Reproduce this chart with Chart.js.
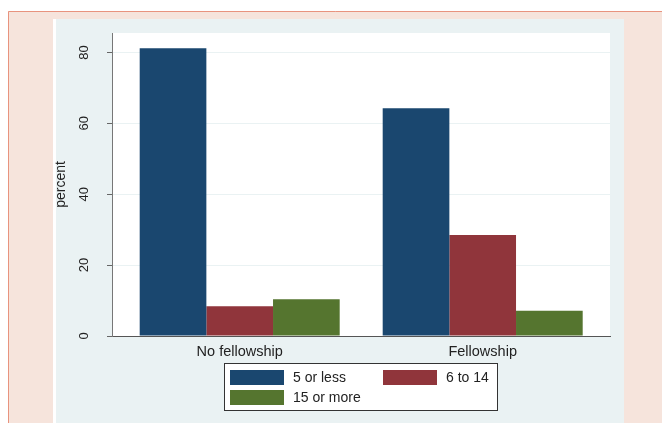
<!DOCTYPE html>
<html>
<head>
<meta charset="utf-8">
<script src="https://cdn.jsdelivr.net/npm/chart.js@4.4.1/dist/chart.umd.min.js"></script>
<style>
    html, body { margin: 0; padding: 0; background: #fff; }
    #wrap { width: 662px; height: 423px; }
</style>
</head>
<body>
<div id="wrap"><canvas id="fellowChart" width="662" height="423"></canvas></div>
<script>
// Categories and series (percent)
const groups = ['No fellowship', 'Fellowship'];
const fiveOrLess = [81.2, 64.3];
const sixTo14 = [8.4, 28.5];
const fifteenOrMore = [10.4, 7.1];
const seriesNames = ['5 or less', '6 to 14', '15 or more'];
const yTicks = [0, 20, 40, 60, 80];

const FONT = "'Liberation Sans', Arial, sans-serif";
const colors = ['#1A476F', '#90353B', '#55752F'];

const toPoints = arr => arr.map((v, i) => ({ x: i, y: v }));

// Page background: salmon frame, bluish graph region, white plot region
const backdrop = {
    id: 'backdrop',
    beforeDraw(chart) {
        const c = chart.ctx;
        const a = chart.chartArea;
        c.save();
        c.fillStyle = '#fff';
        c.fillRect(0, 0, 662, 423);
        c.fillStyle = '#F6E4DC';
        c.fillRect(8, 11, 654, 412);
        c.strokeStyle = '#E8937E';
        c.lineWidth = 1;
        c.beginPath();
        c.moveTo(8.5, 423);
        c.lineTo(8.5, 11.5);
        c.lineTo(662, 11.5);
        c.stroke();
        c.fillStyle = '#fff';
        c.fillRect(53, 19, 3, 404);
        c.fillStyle = '#EAF2F3';
        c.fillRect(56, 19, 568, 404);
        c.fillStyle = '#fff';
        c.fillRect(a.left, a.top, a.right - a.left, a.bottom - a.top);
        c.restore();
    }
};

// Boxed legend below the plot, two columns
const boxLegend = {
    id: 'boxLegend',
    afterDraw(chart) {
        const c = chart.ctx;
        c.save();
        c.fillStyle = '#fff';
        c.fillRect(224.5, 363.5, 273, 47);
        c.strokeStyle = '#333';
        c.lineWidth = 1;
        c.strokeRect(224.5, 363.5, 273, 47);
        c.font = '14px ' + FONT;
        c.textBaseline = 'middle';
        c.textAlign = 'left';
        chart.data.datasets.forEach((ds, i) => {
            const x = 230 + (i % 2) * 153;
            const y = 370 + Math.floor(i / 2) * 20;
            c.fillStyle = ds.backgroundColor;
            c.fillRect(x, y, 54, 15);
            c.fillStyle = '#222';
            c.fillText(ds.label, x + 63, y + 8);
        });
        c.restore();
    }
};

new Chart(document.getElementById('fellowChart'), {
    type: 'bar',
    data: {
        datasets: [
            { label: seriesNames[0], data: toPoints(fiveOrLess), backgroundColor: colors[0] },
            { label: seriesNames[1], data: toPoints(sixTo14), backgroundColor: colors[1] },
            { label: seriesNames[2], data: toPoints(fifteenOrMore), backgroundColor: colors[2] }
        ]
    },
    options: {
        responsive: false,
        animation: false,
        devicePixelRatio: 1,
        layout: { padding: { top: 33, left: 53, right: 52, bottom: 0 } },
        datasets: {
            bar: { categoryPercentage: 200 / 243, barPercentage: 1, borderWidth: 0 }
        },
        plugins: {
            legend: { display: false },
            tooltip: { enabled: false }
        },
        scales: {
            x: {
                type: 'linear',
                offset: false,
                min: -0.5255,
                max: 1.5239,
                afterBuildTicks: scale => { scale.ticks = groups.map((g, i) => ({ value: i })); },
                afterFit: scale => { scale.height = 87; },
                grid: { display: false, drawTicks: false },
                border: { display: true, color: '#555', width: 1 },
                ticks: {
                    autoSkip: false,
                    maxRotation: 0,
                    padding: 7,
                    color: '#222',
                    font: { family: FONT, size: 14.5 },
                    callback: v => groups[v]
                }
            },
            y: {
                min: 0,
                max: 85.5,
                afterBuildTicks: scale => { scale.ticks = yTicks.map(v => ({ value: v })); },
                afterFit: scale => { scale.width = 59; },
                grid: { color: '#EAF2F3', lineWidth: 1, tickLength: 5, tickColor: '#666' },
                border: { display: true, color: '#777', width: 1 },
                ticks: {
                    minRotation: 90,
                    maxRotation: 90,
                    crossAlign: 'center',
                    padding: 15,
                    color: '#222',
                    font: { family: FONT, size: 13 }
                },
                title: {
                    display: true,
                    text: 'percent',
                    color: '#222',
                    padding: 0,
                    font: { family: FONT, size: 14 }
                }
            }
        }
    },
    plugins: [backdrop, boxLegend]
});
</script>
</body>
</html>
